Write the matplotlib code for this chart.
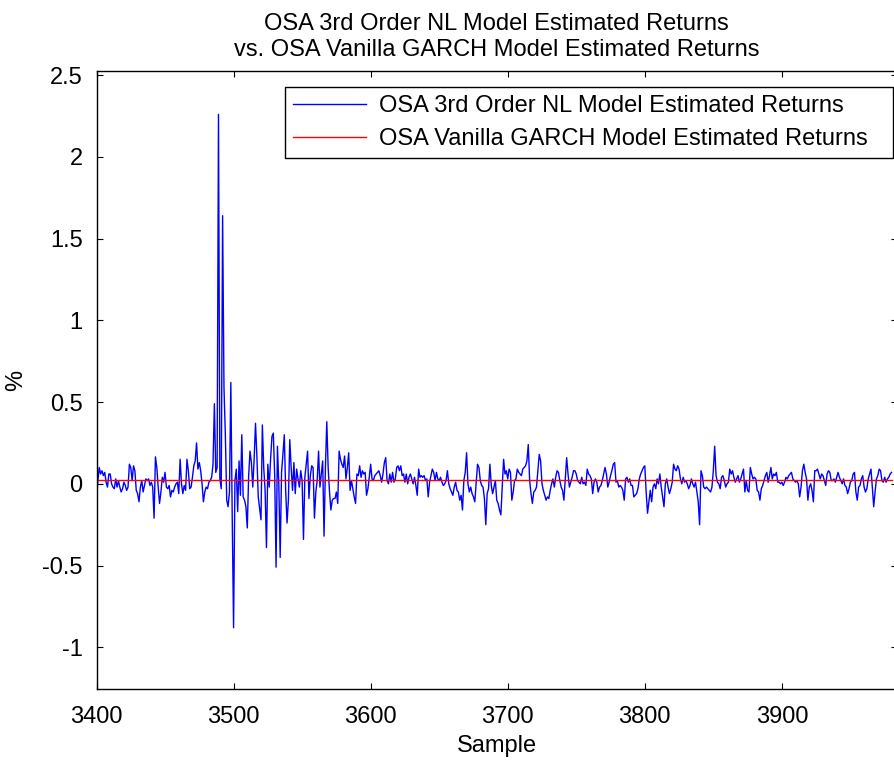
import numpy as np
import matplotlib
matplotlib.use('Agg')
import matplotlib.pyplot as plt

plt.rcParams['font.family'] = ['Liberation Sans', 'DejaVu Sans']

# data (one value per sample, starting at 3400)
start_sample = 3400
nl_returns = [
    -0.10, 0.02, 0.10, 0.06, 0.08, 0.05, 0.07, 0.01, -0.02, 0.06,
    0.06, 0.00, -0.02, -0.03, 0.03, -0.02, 0.02, -0.02, -0.05, -0.03,
    0.01, -0.01, -0.04, -0.02, 0.12, 0.10, 0.02, 0.11, 0.08, -0.04,
    -0.06, -0.11, -0.02, 0.02, -0.05, -0.01, 0.03, 0.02, 0.03, -0.01,
    0.01, -0.02, -0.21, 0.165, 0.10, -0.02, -0.12, -0.05, 0.04, 0.01,
    0.07, -0.02, -0.03, -0.01, -0.08, -0.04, -0.05, -0.02, 0.00, 0.01,
    -0.06, 0.15, 0.00, -0.06, -0.01, -0.04, 0.15, 0.08, -0.03, -0.02,
    0.04, 0.11, 0.14, 0.25, 0.09, 0.13, 0.08, 0.00, -0.11, -0.05,
    -0.02, -0.03, 0.01, 0.02, 0.04, 0.12, 0.49, 0.07, 0.10, 2.26,
    0.03, -0.03, 1.64, 0.59, 0.30, -0.10, -0.14, -0.05, 0.62, -0.19,
    -0.88, 0.02, 0.09, -0.17, 0.14, -0.07, 0.30, -0.08, -0.10, -0.14,
    -0.27, 0.05, 0.20, 0.13, -0.02, 0.15, 0.37, 0.17, -0.08, -0.15,
    -0.22, 0.36, 0.10, -0.04, -0.39, 0.12, -0.02, 0.15, 0.29, 0.31,
    0.05, -0.51, 0.23, 0.00, -0.45, 0.07, 0.18, 0.30, -0.04, -0.24,
    -0.10, 0.27, 0.10, -0.04, 0.13, -0.06, 0.09, 0.03, -0.02, 0.08,
    0.02, -0.34, 0.04, 0.12, 0.20, -0.09, 0.05, 0.11, 0.10, -0.21,
    -0.05, 0.02, 0.20, -0.02, 0.06, 0.14, -0.32, 0.10, 0.38, 0.10,
    -0.05, -0.16, -0.10, -0.09, -0.09, -0.05, -0.12, 0.20, 0.15, 0.12,
    0.10, 0.17, 0.03, 0.10, 0.19, -0.04, 0.02, -0.03, -0.08, -0.12,
    0.06, 0.05, 0.11, 0.04, 0.08, 0.06, 0.07, -0.07, -0.03, 0.04,
    # 3600 ->
    0.12, 0.03, 0.02, 0.05, 0.06, 0.07, 0.08, 0.05, 0.01, 0.06,
    0.13, 0.16, 0.02, 0.00, 0.06, 0.01, 0.07, 0.01, 0.03, 0.10,
    0.11, 0.08, 0.11, 0.05, 0.06, 0.01, 0.06, 0.00, 0.04, 0.06,
    0.03, 0.00, 0.04, -0.01, -0.07, 0.09, 0.04, 0.05, 0.04, 0.05,
    0.02, 0.03, -0.08, 0.01, 0.05, 0.09, 0.07, 0.02, 0.07, 0.03,
    0.02, 0.04, 0.01, -0.01, 0.00, 0.02, 0.08, 0.00, -0.03, -0.05,
    -0.07, -0.02, 0.01, -0.04, -0.05, -0.10, -0.07, -0.16, 0.02, 0.07,
    0.19, 0.00, -0.05, -0.02, -0.06, -0.08, -0.11, 0.01, 0.12, 0.10,
    0.02, -0.01, -0.02, -0.09, -0.25, -0.06, -0.03, 0.12, -0.01, -0.06,
    -0.02, 0.02, -0.10, -0.12, -0.16, -0.19, -0.02, 0.15, 0.06, 0.08,
    0.03, 0.09, 0.07, -0.10, -0.05, 0.02, 0.03, 0.09, 0.07, 0.06,
    0.05, 0.09, 0.10, 0.11, 0.14, 0.24, 0.02, -0.06, -0.12, -0.05,
    -0.04, -0.02, 0.08, 0.18, 0.14, 0.00, -0.04, -0.07, -0.10, -0.08,
    -0.09, -0.04, 0.00, 0.03, -0.02, 0.04, 0.08, 0.07, 0.02, -0.02,
    -0.04, -0.10, 0.03, 0.16, 0.06, -0.02, 0.01, 0.04, 0.08, 0.08,
    0.06, 0.02, 0.01, 0.00, 0.04, 0.00,
    # 3756 ->
    0.01, -0.01, 0.09, 0.06, 0.05, 0.03, -0.06, 0.01, 0.03, 0.01,
    -0.05, -0.02, -0.01, 0.02, 0.06, 0.10, 0.06, -0.02, 0.01, 0.05,
    0.08, 0.12, 0.13, 0.01, 0.02, -0.02, -0.01, -0.02, -0.04, -0.10,
    0.03, 0.04, 0.01, 0.03, -0.01, -0.01, -0.08, -0.07, -0.06, -0.03,
    0.03, 0.06, 0.08, 0.10, 0.11, -0.05, -0.18, -0.11, -0.04, -0.11,
    -0.02, 0.00, -0.03, 0.03, 0.00, 0.06, -0.02, -0.08, -0.14, 0.00,
    0.03, -0.02, -0.06, -0.03, 0.01, 0.12, 0.09, 0.08, 0.11, 0.09,
    0.03, 0.00, 0.04, 0.01, 0.02, 0.00, -0.03, -0.01, 0.03, 0.00,
    -0.02, 0.01, -0.05, -0.11, -0.25, 0.08, 0.05, -0.02, -0.03, -0.02,
    -0.03, -0.04, -0.05, -0.02, 0.08, 0.23, 0.05, 0.01, 0.00, -0.03,
    0.04, 0.05, 0.02, -0.02, 0.00, 0.01, 0.09, 0.06, 0.08, 0.04,
    0.01, 0.03, 0.05, 0.01, 0.03, 0.06, 0.09,
    # 3873 ->
    -0.05, 0.02, -0.04, -0.05, 0.10, 0.06, 0.03, 0.04, 0.03, -0.04,
    -0.05, -0.10, -0.03, -0.01, 0.02, 0.05, 0.07, 0.01, 0.05, 0.10,
    0.03, 0.06, 0.05, 0.07, 0.01, 0.01, 0.00, 0.01, -0.01, 0.01,
    0.04, 0.03, 0.05, 0.06, 0.07, 0.03, 0.02, 0.01, 0.02, 0.00,
    -0.08, -0.02, 0.08, 0.12, 0.07, 0.03, -0.10, -0.02, 0.00, -0.04,
    -0.11, 0.08, 0.08, 0.09, 0.06, 0.03, 0.06, 0.05, 0.02, -0.01,
    0.06, 0.08, 0.07, 0.02, 0.02, 0.03, 0.01, 0.04, 0.07, 0.04,
    0.02, 0.00, 0.03, -0.01, -0.02, -0.06, -0.03, 0.01, 0.02, 0.06,
    0.07, -0.05, -0.10, -0.02, -0.01, 0.03, 0.05, -0.02, -0.05, -0.03,
    0.03, 0.06, 0.09, -0.02, -0.14, -0.05, 0.03, 0.05, 0.09, 0.08,
    0.02, 0.01, 0.04, 0.01, 0.03, 0.04, 0.06, 0.07,
]
garch_return = 0.025

x_ticks = [3400, 3500, 3600, 3700, 3800, 3900]
y_ticks = [-1, -0.5, 0, 0.5, 1, 1.5, 2, 2.5]
y_tick_labels = ['-1', '-0.5', '0', '0.5', '1', '1.5', '2', '2.5']

samples = np.arange(start_sample, start_sample + len(nl_returns))
garch = np.full(len(samples), garch_return)

W, H = 894, 760
fig = plt.figure(figsize=(W / 100, H / 100), dpi=100)
ax = fig.add_axes([96.5 / W, 1 - 689 / H, (897 - 96.5) / W, (689 - 71) / H])

ax.plot(samples, nl_returns, color=(0, 0, 1), lw=1.0,
        label='OSA 3rd Order NL Model Estimated Returns')
ax.plot(samples, garch, color=(1, 0, 0), lw=1.0,
        label='OSA Vanilla GARCH Model Estimated Returns')

ax.set_xlim(3400, 3984)
ax.set_ylim(-1.255, 2.525)
ax.set_xticks(x_ticks)
ax.set_xticklabels([str(t) for t in x_ticks])
ax.set_yticks(y_ticks)
ax.set_yticklabels(y_tick_labels)
ax.tick_params(direction='in', length=4, width=0.8, top=True, right=True,
               labelsize=17, pad=10)
ax.tick_params(axis='x', pad=12)
for s in ax.spines.values():
    s.set_linewidth(1.0)

ax.set_title('OSA 3rd Order NL Model Estimated Returns\n'
             'vs. OSA Vanilla GARCH Model Estimated Returns',
             fontsize=17, pad=11, linespacing=1.2)
ax.set_xlabel('Sample', fontsize=17, labelpad=5)
ax.set_ylabel('%', fontsize=17, labelpad=11)

leg = ax.legend(loc='upper left', mode='expand',
                bbox_to_anchor=(285 / W, 1 - 155 / H, 608 / W, 68 / H),
                bbox_transform=fig.transFigure, borderaxespad=0,
                fontsize=17, fancybox=False, framealpha=1, edgecolor='black',
                handlelength=3.1, handletextpad=0.55, borderpad=0.35,
                labelspacing=0.45)
leg.get_frame().set_linewidth(1.0)

fig.savefig('out.png', dpi=100)
